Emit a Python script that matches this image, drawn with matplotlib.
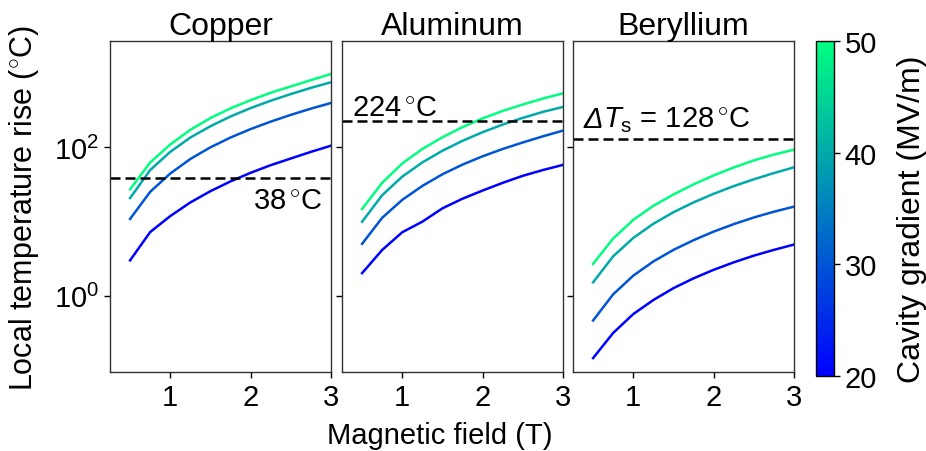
import numpy as np
import matplotlib
matplotlib.use("Agg")
import matplotlib.pyplot as plt
from matplotlib import ticker
from matplotlib.colors import Normalize
from matplotlib.cm import ScalarMappable
from matplotlib.offsetbox import TextArea, HPacker, AnnotationBbox

plt.rcParams['font.family'] = ['Liberation Sans', 'DejaVu Sans']
plt.rcParams['mathtext.fontset'] = 'custom'
plt.rcParams['mathtext.rm'] = 'Liberation Sans'
plt.rcParams['mathtext.it'] = 'Liberation Sans:italic'
plt.rcParams['mathtext.bf'] = 'Liberation Sans:bold'

# ---- data ----
field = [0.5, 0.75, 1.0, 1.25, 1.5, 1.75, 2.0, 2.25, 2.5, 2.75, 3.0]
gradients = [20, 30, 40, 50]
materials = ["Copper", "Aluminum", "Beryllium"]

copper_g20 = [3.0, 7.2, 11.8, 18.0, 25.5, 34.5, 45.0, 57.0, 70.0, 86.0, 104.0]
copper_g30 = [10.8, 25.0, 44.0, 69.0, 99.0, 134.0, 174.0, 219.0, 270.0, 327.0, 390.0]
copper_g40 = [20.6, 49.0, 86.0, 134.0, 190.0, 257.0, 333.0, 418.0, 514.0, 622.0, 740.0]
copper_g50 = [27.0, 62.0, 108.0, 170.0, 245.0, 330.0, 425.0, 535.0, 650.0, 790.0, 955.0]

aluminum_g20 = [2.02, 4.14, 7.16, 9.93, 15.0, 20.2, 26.0, 33.0, 41.0, 49.0, 57.5]
aluminum_g30 = [5.0, 11.2, 19.5, 30.0, 43.0, 58.0, 75.0, 94.0, 115.0, 139.0, 166.0]
aluminum_g40 = [9.9, 22.5, 40.0, 62.0, 89.0, 121.0, 158.0, 200.0, 246.0, 296.0, 345.0]
aluminum_g50 = [14.7, 33.0, 60.0, 94.0, 135.0, 185.0, 242.0, 305.0, 372.0, 447.0, 525.0]

beryllium_g20 = [0.146, 0.318, 0.57, 0.88, 1.27, 1.72, 2.24, 2.82, 3.47, 4.15, 4.89]
beryllium_g30 = [0.467, 1.05, 1.87, 2.9, 4.15, 5.6, 7.3, 9.2, 11.3, 13.5, 15.8]
beryllium_g40 = [1.52, 3.4, 6.0, 9.3, 13.3, 18.0, 23.5, 29.8, 36.8, 44.6, 53.3]
beryllium_g50 = [2.69, 5.9, 10.5, 16.2, 23.0, 31.5, 41.5, 53.0, 66.0, 79.0, 92.0]

thresholds = [38, 224, 128]
threshold_labels = [r"38$\,^{\circ}$C", r"224$\,^{\circ}$C", r"$T_\mathrm{s}$ = 128$\,^{\circ}$C"]

series = [
    [copper_g20, copper_g30, copper_g40, copper_g50],
    [aluminum_g20, aluminum_g30, aluminum_g40, aluminum_g50],
    [beryllium_g20, beryllium_g30, beryllium_g40, beryllium_g50],
]

# ---- figure ----
W, H = 926, 452
fig = plt.figure(figsize=(W / 100, H / 100), dpi=100)
cmap = plt.get_cmap("winter")
norm = Normalize(vmin=20, vmax=50)
FS = 21

lefts = [110, 342, 573]
axw = 221
top, bottom = 42, 373

axes = []
for i, name in enumerate(materials):
    ax = fig.add_axes([lefts[i] / W, 1 - bottom / H, axw / W, (bottom - top) / H])
    axes.append(ax)
    for g, vals in zip(gradients, series[i]):
        ax.plot(field, vals, color=cmap(norm(g)), lw=1.8)
    ax.axhline(thresholds[i], color="black", ls="--", lw=1.8, dashes=(4, 2))
    ax.set_yscale("log")
    ax.set_xlim(0.25, 3.0)
    ax.set_ylim(0.095, 2650)
    ax.set_xticks([1, 2, 3])
    ax.set_yticks([1, 100])
    ax.yaxis.set_minor_locator(ticker.NullLocator())
    ax.yaxis.set_major_formatter(ticker.LogFormatterSciNotation())
    ax.tick_params(direction="out", length=4, width=1, labelsize=FS, pad=4)
    ax.set_title(name, fontsize=FS + 2, pad=4)
    if i > 0:
        ax.tick_params(labelleft=False)
    for s in ax.spines.values():
        s.set_linewidth(1.0)
        s.set_color("#333333")

axes[0].text(2.9, 14.7, threshold_labels[0], fontsize=FS, ha="right", va="baseline")
axes[1].text(0.38, 261, threshold_labels[1], fontsize=FS, ha="left", va="baseline")

# italic Delta + rest of label, packed on a common baseline
delta = TextArea("Δ", textprops=dict(fontsize=FS, style="italic"))
rest = TextArea(threshold_labels[2], textprops=dict(fontsize=FS))
pack = HPacker(children=[delta, rest], align="baseline", pad=0, sep=0)
ab = AnnotationBbox(pack, (0.38, 150), xycoords=axes[2].transData,
                    box_alignment=(0, 0), frameon=False, pad=0)
axes[2].add_artist(ab)

axes[0].set_ylabel(r"Local temperature rise ($^{\circ}$C)", fontsize=FS + 1)
axes[0].yaxis.set_label_coords(-0.31, 0.5)
fig.text(440 / W, 1 - 436 / H, "Magnetic field (T)", fontsize=FS, ha="center", va="center")

cax = fig.add_axes([816 / W, 1 - 377 / H, 18 / W, (377 - 42) / H])
sm = ScalarMappable(norm=norm, cmap=cmap)
cb = fig.colorbar(sm, cax=cax, ticks=gradients)
cb.ax.tick_params(labelsize=FS, length=4, width=1)
cb.set_label("Cavity gradient (MV/m)", fontsize=FS + 2)
cb.ax.yaxis.set_label_coords(4.5, 0.47)
cb.outline.set_linewidth(1.0)

fig.savefig("out.png", dpi=100)
